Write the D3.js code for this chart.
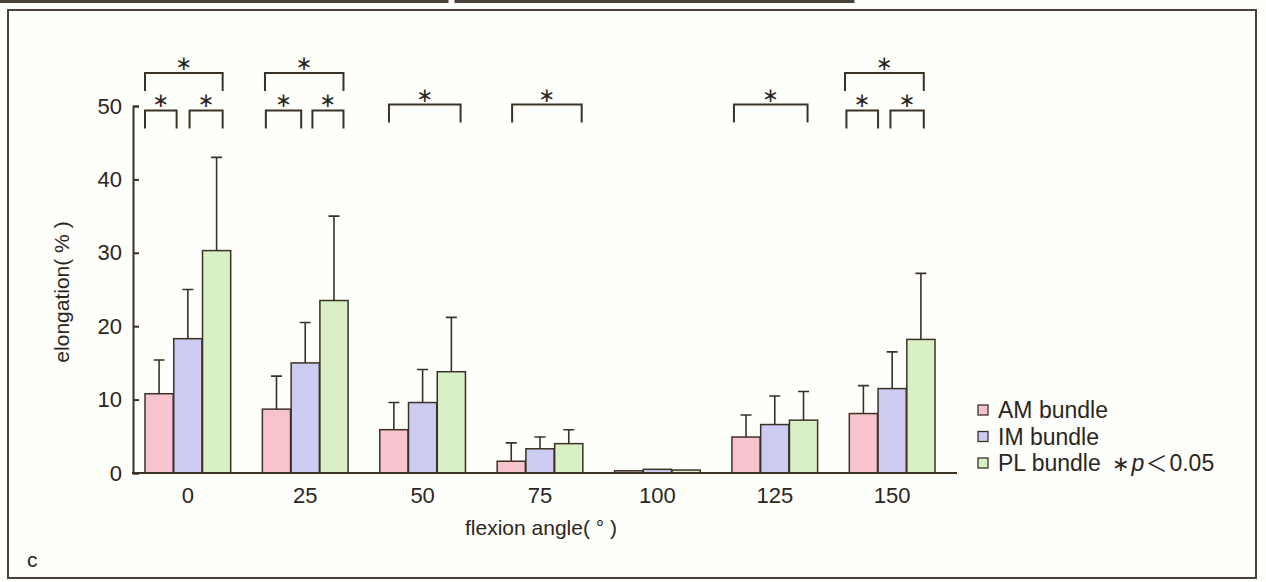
<!DOCTYPE html>
<html>
<head>
<meta charset="utf-8">
<script src="https://cdn.jsdelivr.net/npm/d3@7"></script>
<style>
  html, body { margin: 0; padding: 0; background: #fefefb; }
  svg { display: block; }
  text { font-family: "Liberation Sans", Arial, sans-serif; fill: #2b2620; }
  .ast { font-family: "DejaVu Sans", sans-serif; }
</style>
</head>
<body>
<svg id="chart" width="1266" height="582"></svg>
<script>
// ---- data ----
const angles = ["0", "25", "50", "75", "100", "125", "150"];
const seriesNames = ["AM bundle", "IM bundle", "PL bundle"];
const amMean = [10.8, 8.7, 5.9, 1.6, 0.3, 4.9, 8.1];
const amSD   = [4.6, 4.5, 3.7, 2.5, 0, 3.0, 3.8];
const imMean = [18.3, 15.0, 9.6, 3.3, 0.5, 6.6, 11.5];
const imSD   = [6.7, 5.5, 4.5, 1.6, 0, 3.9, 5.0];
const plMean = [30.3, 23.5, 13.8, 4.0, 0.4, 7.2, 18.2];
const plSD   = [12.7, 11.5, 7.4, 1.9, 0, 3.9, 9.0];
const yTicks = [0, 10, 20, 30, 40, 50];
// significance brackets: group, from/to (in bar-slot units within the group), level
const brackets = [
  ["0", 0.0, 1.1, "low"], ["0", 1.55, 2.7, "low"], ["0", 0.0, 2.7, "high"],
  ["25", 0.12, 1.35, "low"], ["25", 1.74, 2.82, "low"], ["25", 0.09, 2.82, "high"],
  ["50", 0.32, 2.81, "mid"],
  ["75", 0.52, 2.94, "mid"],
  ["125", 0.07, 2.63, "mid"],
  ["150", -0.1, 1.0, "low"], ["150", 1.43, 2.59, "low"], ["150", -0.15, 2.59, "high"]
];
const levelValue = { low: 49.4, mid: 50.2, high: 54.5 };

// ---- layout ----
const colors = ["#f7c3cc", "#ccccf2", "#d9f0c6"];
const stroke = "#3b3226";
const svg = d3.select("#chart");

const x = d3.scaleBand().domain(angles).range([145, 935]).paddingInner(0.27).paddingOuter(0);
const xs = d3.scaleBand().domain(d3.range(3)).range([0, x.bandwidth()]).paddingInner(0.02);
const y = d3.scaleLinear().domain([0, 50]).range([473, 106]);

const means = [amMean, imMean, plMean];
const sds = [amSD, imSD, plSD];
const rows = [];
angles.forEach((a, gi) => {
  for (let s = 0; s < 3; s++) rows.push({ a, s, m: means[s][gi], sd: sds[s][gi] });
});

// frame
svg.append("rect").attr("x", 8).attr("y", 10).attr("width", 1248).attr("height", 568)
  .attr("fill", "none").attr("stroke", "#4a4238").attr("stroke-width", 2);
// edges of panels above
svg.append("path").attr("d", "M0,1.5H447V0M456,0V1.5H853V0")
  .attr("fill", "none").attr("stroke", "#4a4238").attr("stroke-width", 3);

// bars
const g = svg.append("g");
g.selectAll("rect.bar").data(rows).join("rect")
  .attr("class", "bar")
  .attr("x", d => x(d.a) + xs(d.s))
  .attr("width", xs.bandwidth())
  .attr("y", d => y(d.m))
  .attr("height", d => y(0) - y(d.m))
  .attr("fill", d => colors[d.s])
  .attr("stroke", stroke).attr("stroke-width", 1.5);

// error bars
const eb = rows.filter(d => d.sd > 0);
g.selectAll("path.err").data(eb).join("path")
  .attr("class", "err")
  .attr("d", d => {
    const cx = x(d.a) + xs(d.s) + xs.bandwidth() / 2;
    return `M${cx},${y(d.m)}V${y(d.m + d.sd)}M${cx - 5.5},${y(d.m + d.sd)}H${cx + 5.5}`;
  })
  .attr("fill", "none").attr("stroke", stroke).attr("stroke-width", 1.6);

// y axis
const yAxis = d3.axisLeft(y).tickValues(yTicks).tickSize(-6).tickPadding(11);
const ya = svg.append("g").attr("transform", "translate(133,0)").call(yAxis);
ya.select(".domain").attr("stroke", stroke).attr("stroke-width", 2);
ya.selectAll(".tick line").attr("stroke", stroke).attr("stroke-width", 2);
ya.selectAll(".tick text").attr("font-size", 22).style("font-family", "Liberation Sans, Arial, sans-serif").attr("fill", "#2b2620");

// x axis
const xa = svg.append("g").attr("transform", "translate(0,473)")
  .call(d3.axisBottom(x).tickSize(0).tickPadding(14));
xa.select(".domain").remove();
xa.append("line").attr("x1", 132).attr("x2", 957).attr("stroke", stroke).attr("stroke-width", 2);
xa.selectAll(".tick text").attr("font-size", 22).style("font-family", "Liberation Sans, Arial, sans-serif").attr("fill", "#2b2620");

// axis titles
svg.append("text").attr("x", 541).attr("y", 535).attr("text-anchor", "middle")
  .attr("font-size", 21).text("flexion angle( ° )");
svg.append("text").attr("transform", "translate(69,292) rotate(-90)").attr("text-anchor", "middle")
  .attr("font-size", 21).text("elongation( % )");
svg.append("text").attr("x", 27).attr("y", 567).attr("font-size", 21).text("c");

// brackets
const slot = xs.step();
brackets.forEach(([a, f, t, lvl]) => {
  const x1 = x(a) + f * slot, x2 = x(a) + t * slot, yy = y(levelValue[lvl]);
  svg.append("path").attr("d", `M${x1},${yy + 18}V${yy}H${x2}V${yy + 18}`)
    .attr("fill", "none").attr("stroke", stroke).attr("stroke-width", 2);
  svg.append("text").attr("class", "ast").attr("x", (x1 + x2) / 2).attr("y", yy - 10)
    .attr("text-anchor", "middle").attr("dominant-baseline", "central")
    .attr("font-size", 20).text("∗");
});

// legend
const lg = svg.append("g").attr("transform", "translate(978,410)");
seriesNames.forEach((n, i) => {
  const row = lg.append("g").attr("transform", `translate(0,${i * 26.5})`);
  row.append("rect").attr("x", 0).attr("y", -5).attr("width", 10).attr("height", 10)
    .attr("fill", colors[i]).attr("stroke", stroke).attr("stroke-width", 1.3);
  row.append("text").attr("x", 20).attr("y", 8).attr("font-size", 23).text(n);
});
const pt = lg.append("text").attr("x", 134).attr("y", 61).attr("font-size", 23);
pt.append("tspan").attr("class", "ast").attr("font-size", 21).text("∗");
pt.append("tspan").attr("font-style", "italic").attr("dx", 2).text("p");
pt.append("tspan").style("font-family", "Noto Sans CJK JP").attr("font-size", 22).attr("dx", 1).text("＜");
pt.append("tspan").attr("dx", 2).text("0.05");
</script>
</body>
</html>
